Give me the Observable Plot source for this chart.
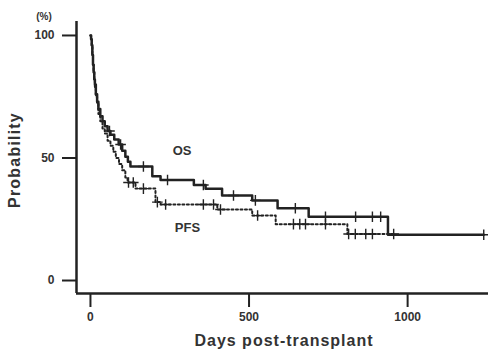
<!DOCTYPE html>
<html><head><meta charset="utf-8">
<script src="https://cdn.jsdelivr.net/npm/d3@7"></script>
<script src="https://cdn.jsdelivr.net/npm/@observablehq/plot@0.6"></script>
<style>body{margin:0;background:#fff}#chart{width:488px;height:350px}</style>
</head><body><div id="chart"></div>
<script>
// Overall survival (OS) step curve
const osDays = [0, 2, 4, 6, 8, 10, 12, 14, 17, 21, 25, 31, 38, 45, 54, 63, 75, 89, 100, 110, 118, 126, 195, 221, 326, 363, 415, 510, 590, 688, 938, 1240];
const osPct  = [100, 98.5, 96, 92, 88, 85, 82, 80, 76, 73, 70, 67, 65, 63, 61, 59.5, 57.5, 55.5, 53, 50.5, 48.5, 46.5, 42.5, 41, 39, 37.4, 34.7, 32.7, 29.5, 26, 18.7, 18.7];
const osCensor = [60, 95, 167, 243, 356, 451, 520, 646, 741, 836, 889, 915, 1240];

// Progression-free survival (PFS) step curve
const pfsDays = [0, 2, 4, 6, 8, 10, 12, 14, 17, 21, 25, 31, 38, 45, 54, 63, 72, 80, 90, 100, 110, 117, 142, 205, 221, 400, 510, 584, 810, 960];
const pfsPct  = [100, 98.5, 96, 92, 88, 85, 82, 79, 75, 72, 68, 65, 62, 60, 57, 55, 52.5, 50, 47.5, 45, 42, 40, 37.5, 32, 31, 29, 26.5, 23, 19, 19];
const pfsCensor = [120, 135, 167, 211, 237, 356, 388, 410, 527, 640, 660, 678, 741, 814, 835, 868, 889, 956];

const curveLabels = ["OS", "PFS"];
const labelDays = [289, 306];
const labelPct = [53, 21.6];

const xTicks = [0, 500, 1000];
const yTicks = [0, 50, 100];
const xDomain = [-44, 1255];
const yDomain = [-5.3, 105.7];

const toRows = (days, pct, series) => days.map((d, i) => ({day: d, pct: pct[i], series}));
const osRows = toRows(osDays, osPct, "OS");
const pfsRows = toRows(pfsDays, pfsPct, "PFS");
const lookup = (rows, day) => { let v = rows[0].pct; for (const r of rows) if (r.day <= day) v = r.pct; return v; };
const osC = osCensor.map(d => ({day: d, pct: lookup(osRows, d)}));
const pfsC = pfsCensor.map(d => ({day: d, pct: lookup(pfsRows, d)}));
const labels = curveLabels.map((t, i) => ({t, day: labelDays[i], pct: labelPct[i]}));

const ink = "#222";
const chart = Plot.plot({
  width: 488, height: 350,
  marginLeft: 76, marginRight: 0, marginTop: 21, marginBottom: 57,
  style: {fontFamily: "'Liberation Sans', Arial, sans-serif", background: "#fff"},
  x: {domain: xDomain},
  y: {domain: yDomain},
  marks: [
    Plot.axisX({ticks: xTicks, tickFormat: d => String(d), tickSize: 14, tickPadding: 5, strokeWidth: 2, stroke: ink, fontSize: 12, fontWeight: "bold", fill: "#333", label: null}),
    Plot.axisY({ticks: yTicks, tickFormat: d => String(d), tickSize: 14, tickPadding: 8, strokeWidth: 2, stroke: ink, fontSize: 12, fontWeight: "bold", fill: "#333", label: null}),
    Plot.ruleX([xDomain[0]], {stroke: ink, strokeWidth: 2.5}),
    Plot.ruleY([yDomain[0]], {stroke: ink, strokeWidth: 2.5}),
    Plot.line(pfsRows, {x: "day", y: "pct", curve: "step-after", stroke: ink, strokeWidth: 2, strokeDasharray: "2,2.5"}),
    Plot.line(osRows, {x: "day", y: "pct", curve: "step-after", stroke: ink, strokeWidth: 2.5}),
    Plot.dot(pfsC, {x: "day", y: "pct", symbol: "plus", r: 3.5, stroke: ink, strokeWidth: 1.4}),
    Plot.dot(osC, {x: "day", y: "pct", symbol: "plus", r: 3.5, stroke: ink, strokeWidth: 1.4}),
    Plot.text(labels, {x: "day", y: "pct", text: "t", fontSize: 13, fontWeight: "bold", fill: "#333"})
  ]
});
const svg = d3.select(chart);
svg.append("text").attr("x", 44).attr("y", 20).attr("text-anchor", "middle")
  .attr("font-size", 10).attr("font-weight", "bold").attr("fill", "#333").text("(%)");
svg.append("text").attr("transform", "translate(20,160) rotate(-90)").attr("text-anchor", "middle")
  .attr("font-size", 16).attr("letter-spacing", 1.2).attr("font-weight", "bold").attr("fill", "#333").text("Probability");
svg.append("text").attr("x", 284).attr("y", 346).attr("text-anchor", "middle")
  .attr("font-size", 16).attr("letter-spacing", 1).attr("font-weight", "bold").attr("fill", "#333").text("Days post-transplant");
document.getElementById("chart").appendChild(chart);
</script>
</body></html>
